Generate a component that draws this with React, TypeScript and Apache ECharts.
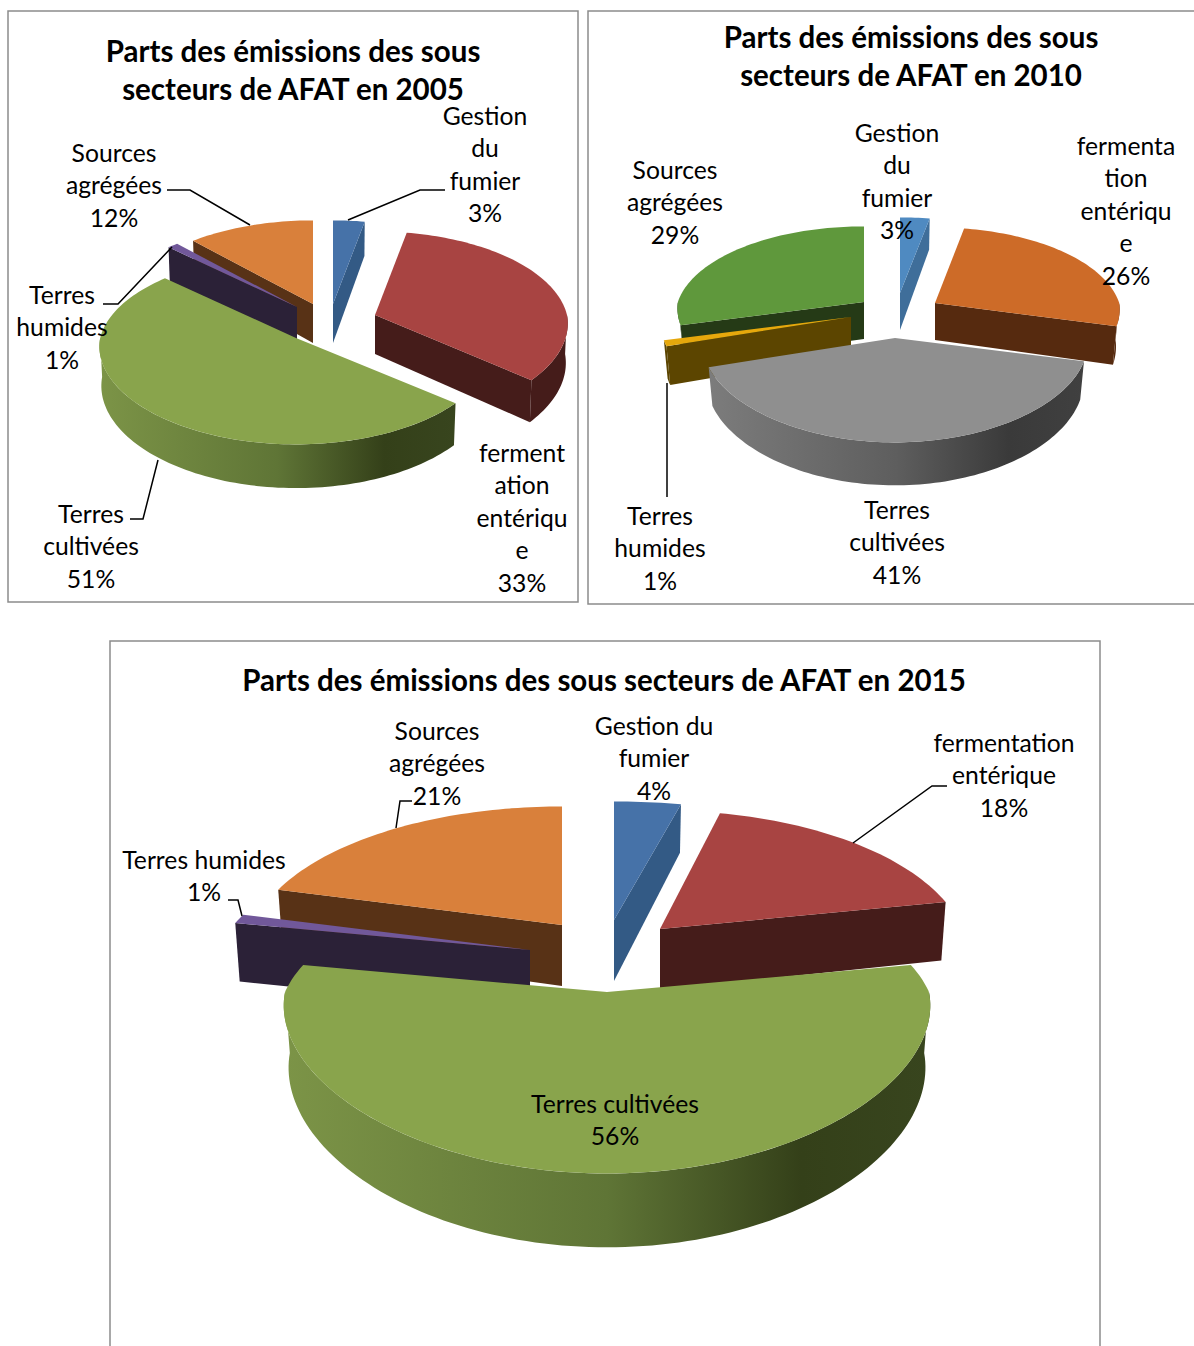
import React, { useEffect, useRef } from "react";
import * as echarts from "echarts";

const categories = ["Gestion du fumier", "fermentation entérique", "Terres cultivées", "Terres humides", "Sources agrégées"];
const values2005 = [3, 33, 51, 1, 12];
const values2010 = [3, 26, 41, 1, 29];
const values2015 = [4, 18, 56, 1, 21];

const labels2005 = ["Gestion\ndu\nfumier", "ferment\nation\nentériqu\ne", "Terres\ncultivées", "Terres\nhumides", "Sources\nagrégées"];
const labels2010 = ["Gestion\ndu\nfumier", "fermenta\ntion\nentériqu\ne", "Terres\ncultivées", "Terres\nhumides", "Sources\nagrégées"];
const labels2015 = ["Gestion du\nfumier", "fermentation\nentérique", "Terres cultivées", "Terres humides", "Sources\nagrégées"];

const titles = [
  "Parts des émissions des sous\nsecteurs de AFAT en 2005",
  "Parts des émissions des sous\nsecteurs de AFAT en 2010",
  "Parts des émissions des sous secteurs de AFAT en 2015",
];

const FONT = "Lato, Carlito, sans-serif";
const greenWall = [[0, "#7c9447"], [0.5, "#5f7536"], [0.8, "#344019"], [1, "#38451e"]];
const grayWall = [[0, "#7c7c7c"], [0.5, "#5e5e5e"], [0.8, "#3a3a3a"], [1, "#404040"]];

const styles2005 = [
  { top: "#4672a8", face: "#335a85", wall: "#335a85" },
  { top: "#a84442", face: "#451c1a", wall: "#451c1a" },
  { top: "#89a44c", face: "#344019", wall: greenWall },
  { top: "#71589a", face: "#2b2137", wall: "#2b2137" },
  { top: "#d9803b", face: "#583216", wall: "#583216" },
];
const styles2010 = [
  { top: "#4f8ac1", face: "#3f6e9a", wall: "#3f6e9a" },
  { top: "#cd6b28", face: "#562a0f", wall: "#562a0f" },
  { top: "#8f8f8f", face: "#3a3a3a", wall: grayWall },
  { top: "#e6a80c", face: "#5c4500", wall: "#5c4500" },
  { top: "#5f983c", face: "#253a16", wall: "#253a16" },
];

const charts = [
  {
    values: values2005, labels: labels2005, styles: styles2005,
    rx: 192, ry: 95, p: 0.12, px: 0.09, d: 39, taper: 0.99,
    apex: [[333, 304], [375, 315], [296, 338], [297, 307], [313, 304]],
    xScale: [1, 1, 1.02, 1, 1],
    order: [1, 0, 4, 3, 2],
    labelPos: [[485, 99], [522, 436], [91, 497], [62, 278], [114, 136]],
    title: [293, 31],
    leaders: [
      [[445, 190], [420, 190], [348, 220]],
      [[130, 519], [143, 519], [158, 460]],
      [[103, 304], [118, 304], [172, 247]],
      [[167, 190], [190, 190], [250, 225]],
    ],
  },
  {
    values: values2010, labels: labels2010, styles: styles2010,
    rx: 188, ry: 90, p: 0.16, px: 0.07, d: 37, taper: 0.98,
    apex: [[900, 293], [935, 303], [895, 338], [851, 317], [864, 302]],
    xScale: [1, 0.98, 1.02, 1.01, 0.99],
    order: [0, 1, 4, 3, 2],
    labelPos: [[897, 116], [1126, 129], [897, 493], [660, 499], [675, 153]],
    title: [911, 17],
    leaders: [[[667, 383], [667, 497]]],
  },
  {
    values: values2015, labels: labels2015, styles: styles2005,
    rx: 322, ry: 150, p: 0.21, px: 0.09, d: 61, taper: 0.985,
    apex: [[614, 920], [660, 929], [607, 992], [530, 950], [562, 925]],
    xScale: [1.05, 0.94, 1, 0.97, 0.96],
    order: [0, 1, 4, 3, 2],
    labelPos: [[654, 709], [1004, 726], [615, 1087], [204, 843], [437, 714]],
    title: [604, 660],
    leaders: [
      [[947, 786], [932, 786], [853, 843]],
      [[228, 900], [238, 900], [242, 916]],
      [[412, 801], [400, 801], [396, 828]],
    ],
  },
];

const RAD = Math.PI / 180;

function fillOf(w: any) {
  if (typeof w === "string") return w;
  return new echarts.graphic.LinearGradient(0, 0, 1, 0, w.map((s: any) => ({ offset: s[0], color: s[1] })));
}

function makeRender(c: any) {
  const total = c.values.reduce((s: number, v: number) => s + v, 0);
  return (params: any, api: any) => {
    const i = params.dataIndex;
    const value = api.value(0);
    const before = c.values.slice(0, i).reduce((s: number, v: number) => s + v, 0);
    const a0 = (before / total) * 360;
    const a1 = a0 + (value / total) * 360;
    const [ax, ay] = c.apex[i];
    const st = c.styles[i];
    const rx = c.rx * c.xScale[i];
    const pt = (deg: number, bottom: boolean) => {
      const u = Math.sin(deg * RAD);
      const v = -Math.cos(deg * RAD);
      const s = 1 + c.p * v;
      const sx = 1 + (v < 0 ? c.p : c.px) * v;
      return [ax + rx * u * sx * (bottom ? c.taper : 1), ay + c.ry * v * s + (bottom ? c.d * s : 0)];
    };
    const arc = (from: number, to: number, bottom: boolean) => {
      const out: number[][] = [];
      const n = Math.max(2, Math.ceil((to - from) / 1.5));
      for (let k = 0; k <= n; k++) out.push(pt(from + ((to - from) * k) / n, bottom));
      return out;
    };
    const base = c.order[i] * 10;
    const children: any[] = [];
    const face = (deg: number) => ({
      type: "polygon", z2: base + 1,
      shape: { points: [[ax, ay], pt(deg, false), pt(deg, true), [ax, ay + c.d]] },
      style: { fill: st.face },
    });
    if (a0 > 180) children.push(face(a0));
    if (a1 < 180) children.push(face(a1));
    const w0 = Math.max(a0, 90);
    const w1 = Math.min(a1, 270);
    if (w1 > w0) {
      children.push({
        type: "polygon", z2: base + 2,
        shape: { points: [...arc(w0, w1, false), ...arc(w0, w1, true).reverse()] },
        style: { fill: fillOf(st.wall) },
      });
    }
    children.push({
      type: "polygon", z2: base + 3,
      shape: { points: [[ax, ay], ...arc(a0, a1, false)] },
      style: { fill: st.top },
    });
    return { type: "group", children };
  };
}

function buildOption() {
  const elements: any[] = [
    { type: "rect", z: -1, silent: true, shape: { x: 8, y: 11, width: 570, height: 591 }, style: { fill: "#fff", stroke: "#8c8c8c", lineWidth: 1.5 } },
    { type: "rect", z: -1, silent: true, shape: { x: 588, y: 11, width: 620, height: 593 }, style: { fill: "#fff", stroke: "#8c8c8c", lineWidth: 1.5 } },
    { type: "polyline", z: -1, silent: true, shape: { points: [[110, 1346], [110, 641], [1100, 641], [1100, 1346]] }, style: { fill: "none", stroke: "#8c8c8c", lineWidth: 1.5 } },
  ];
  charts.forEach((c) => {
    c.leaders.forEach((pts: any) => {
      elements.push({ type: "polyline", z: 10, silent: true, shape: { points: pts }, style: { fill: "none", stroke: "#000", lineWidth: 1.5 } });
    });
    c.labels.forEach((lab: string, i: number) => {
      elements.push({
        type: "text", z: 11, silent: true, x: c.labelPos[i][0], y: c.labelPos[i][1],
        style: {
          text: `${lab}\n${c.values[i]}%`, fill: "#000", font: `24.7px ${FONT}`,
          align: "center", verticalAlign: "top", lineHeight: 32.5,
        },
      });
    });
  });
  return {
    animation: false,
    backgroundColor: "#fff",
    title: charts.map((c, i) => ({
      text: titles[i], left: c.title[0], top: c.title[1], textAlign: "center", padding: 0,
      textStyle: { fontFamily: FONT, fontWeight: "bold", fontSize: 29.5, lineHeight: 38.5, color: "#000" },
    })),
    graphic: { elements },
    series: charts.map((c) => ({
      type: "custom", coordinateSystem: "none", renderItem: makeRender(c), silent: true,
      data: c.values.map((v, i) => ({ name: categories[i], value: [v] })),
    })),
  };
}

export default function App() {
  const ref = useRef<HTMLDivElement>(null);
  useEffect(() => {
    const chart = echarts.init(ref.current!, undefined, { renderer: "svg" });
    chart.setOption(buildOption() as any);
    return () => chart.dispose();
  }, []);
  return <div ref={ref} style={{ position: "absolute", left: 0, top: 0, width: 1194, height: 1346 }} />;
}
